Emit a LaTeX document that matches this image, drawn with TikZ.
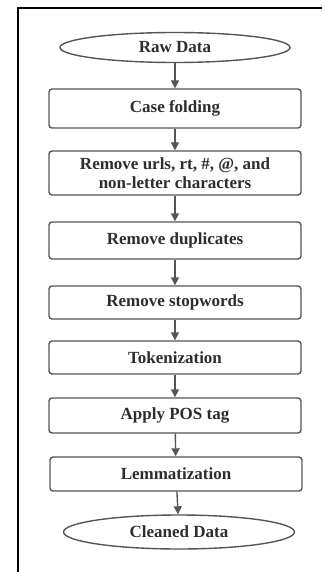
\documentclass[tikz,border=0pt]{standalone}
\usepackage{fontspec}
\setmainfont{Liberation Serif}
\usepackage{tikz}
\definecolor{Lnclr}{RGB}{85,85,85}
\definecolor{Txclr}{RGB}{45,45,45}
\usetikzlibrary{shapes.geometric, arrows.meta}

\tikzset{
    stepbox/.style={draw=Lnclr, line width=1.4pt, rounded corners=3pt,
                    minimum width=252pt, minimum height=35pt, align=center,
                    text=Txclr, font=\fontsize{17}{19}\selectfont\bfseries},
    endbox/.style={ellipse, draw=Lnclr, line width=1.4pt, inner sep=0pt,
                   minimum width=230pt, minimum height=30pt,
                   text=Txclr, font=\fontsize{17}{19}\selectfont\bfseries},
    flow/.style={draw=Lnclr, line width=1.4pt,
                 -{Triangle[width=8pt,length=8pt]}}
}

\begin{document}
\begin{tikzpicture}[x=1pt, y=-1pt]
    \useasboundingbox (0,0) rectangle (322,572);
    % frame
    \draw[line width=2pt] (18,572) -- (18,8) -- (322,8);

    \node[endbox] (raw) at (175,47.5) {Raw Data};
    \node[stepbox, minimum height=39pt] (fold) at (175,108.5) {Case folding};
    \node[stepbox, minimum height=44pt] (urls) at (175,173)
         {Remove urls, rt, \#, @, and\\ non-letter characters};
    \node[stepbox, minimum height=37pt] (dupl) at (175,240.5) {Remove duplicates};
    \node[stepbox, minimum height=33pt] (stop) at (175,302.5) {Remove stopwords};
    \node[stepbox, minimum height=33pt] (token) at (175,357.5) {Tokenization};
    \node[stepbox] (pos) at (175,415.5) {Apply POS tag};
    \node[stepbox, minimum height=34pt] (lemma) at (176,474) {Lemmatization};
    \node[endbox, minimum width=231pt, minimum height=34pt] (clean) at (179,532) {Cleaned Data};

    % arrows
    \draw[flow] (raw) -- (fold);
    \draw[flow] (fold) -- (urls);
    \draw[flow] (urls) -- (dupl);
    \draw[flow] (dupl) -- (stop);
    \draw[flow] (stop) -- (token);
    \draw[flow] (token) -- (pos);
    \draw[flow] (pos) -- (lemma);
    \draw[flow] (lemma) -- (clean);
\end{tikzpicture}
\end{document}
